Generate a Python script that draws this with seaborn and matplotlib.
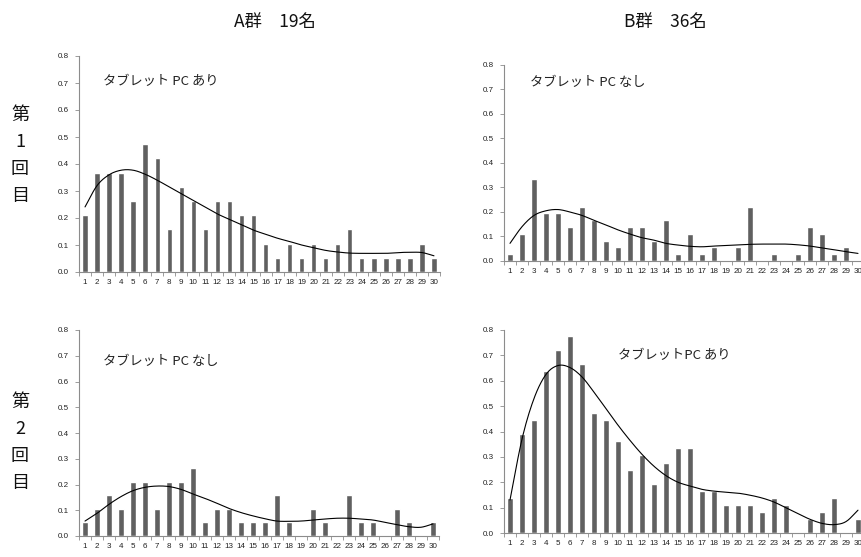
import numpy as np
import pandas as pd
import matplotlib
matplotlib.use("Agg")
import matplotlib.pyplot as plt
import seaborn as sns

# 回答者の割合 (A群 19名, B群 36名), 項目 1〜30
items = [str(i) for i in range(1, 31)]

a_round1 = [4, 7, 7, 7, 5, 9, 8, 3, 6, 5, 3, 5, 5, 4, 4,
            2, 1, 2, 1, 2, 1, 2, 3, 1, 1, 1, 1, 1, 2, 1]
a_round2 = [1, 2, 3, 2, 4, 4, 2, 4, 4, 5, 1, 2, 2, 1, 1,
            1, 3, 1, 0, 2, 1, 0, 3, 1, 1, 0, 2, 1, 0, 1]
b_round1 = [1, 4, 12, 7, 7, 5, 8, 6, 3, 2, 5, 5, 3, 6, 1,
            4, 1, 2, 0, 2, 8, 0, 1, 0, 1, 5, 4, 1, 2, 0]
b_round2 = [5, 14, 16, 23, 26, 28, 24, 17, 16, 13, 9, 11, 7, 10, 12,
            12, 6, 6, 4, 4, 4, 3, 5, 4, 0, 2, 3, 5, 0, 2]

n_a = 19
n_b = 36

# 近似曲線 (多項式近似) の各項目での値
trend_a1 = [0.241, 0.32, 0.36, 0.377, 0.377, 0.362, 0.34, 0.315, 0.29, 0.265,
            0.24, 0.215, 0.195, 0.175, 0.155, 0.14, 0.125, 0.113, 0.10, 0.09,
            0.08, 0.074, 0.07, 0.069, 0.069, 0.069, 0.072, 0.073, 0.072, 0.06]
trend_b1 = [0.072, 0.14, 0.186, 0.205, 0.21, 0.20, 0.186, 0.166, 0.147, 0.127,
            0.11, 0.095, 0.085, 0.072, 0.065, 0.06, 0.058, 0.061, 0.063, 0.065,
            0.068, 0.069, 0.069, 0.069, 0.066, 0.061, 0.053, 0.046, 0.038, 0.031]
trend_a2 = [0.058, 0.088, 0.123, 0.153, 0.176, 0.189, 0.194, 0.192, 0.181, 0.163,
            0.146, 0.127, 0.107, 0.091, 0.078, 0.067, 0.058, 0.057, 0.058, 0.062,
            0.066, 0.069, 0.069, 0.066, 0.062, 0.053, 0.044, 0.036, 0.034, 0.047]
trend_b2 = [0.13, 0.37, 0.53, 0.625, 0.66, 0.652, 0.615, 0.555, 0.49, 0.425,
            0.365, 0.31, 0.263, 0.226, 0.20, 0.185, 0.172, 0.165, 0.161, 0.157,
            0.149, 0.138, 0.122, 0.099, 0.076, 0.054, 0.038, 0.033, 0.045, 0.09]

group_titles = ["A群　19名", "B群　36名"]
round_labels = ["第\n1\n回\n目", "第\n2\n回\n目"]
panel_notes = ["タブレット PC あり", "タブレット PC なし",
               "タブレット PC なし", "タブレットPC あり"]

sns.set_theme(style="white")
plt.rcParams["font.family"] = ["Liberation Sans", "Noto Sans CJK JP", "DejaVu Sans"]
JP = ["Noto Sans CJK JP", "DejaVu Sans"]

W, H = 861, 557
fig = plt.figure(figsize=(W / 100, H / 100), dpi=100)
fig.patch.set_facecolor("white")


def axes_px(left, right, top, bottom):
    return fig.add_axes([left / W, 1 - bottom / H, (right - left) / W, (bottom - top) / H])


def smooth_path(y, steps=12):
    """Catmull-Rom curve through the trend values at each item position."""
    y = np.asarray(y, dtype=float)
    p = np.concatenate([[2 * y[0] - y[1]], y, [2 * y[-1] - y[-2]]])
    xs, ys = [], []
    t = np.linspace(0, 1, steps, endpoint=False)
    for i in range(1, len(p) - 2):
        p0, p1, p2, p3 = p[i - 1], p[i], p[i + 1], p[i + 2]
        seg = 0.5 * ((2 * p1) + (-p0 + p2) * t + (2 * p0 - 5 * p1 + 4 * p2 - p3) * t ** 2
                     + (-p0 + 3 * p1 - 3 * p2 + p3) * t ** 3)
        xs.append(i - 1 + t)
        ys.append(seg)
    xs.append([len(y) - 1])
    ys.append([y[-1]])
    return np.concatenate(xs), np.concatenate(ys)


panels = [
    (a_round1, n_a, trend_a1, axes_px(79, 440, 56, 272), (103, 82)),
    (b_round1, n_b, trend_b1, axes_px(504, 864, 65, 261), (530, 82)),
    (a_round2, n_a, trend_a2, axes_px(79, 439, 330, 536), (103, 362)),
    (b_round2, n_b, trend_b2, axes_px(504, 864, 330, 533), (618, 356)),
]

bar_color = "#606060"
axis_color = "#8c8c8c"

for (counts, n, trend, ax, (tx, ty)), note in zip(panels, panel_notes):
    rate = np.array(counts) / n
    df = pd.DataFrame({"item": items, "rate": rate})
    sns.barplot(data=df, x="item", y="rate", order=items, color=bar_color,
                saturation=1, width=0.45, ax=ax)

    cx, cy = smooth_path(trend)
    ax.plot(cx, cy, color="black", lw=0.8)

    xs = np.arange(len(items))
    ax.set_xlim(-0.5, len(items) - 0.5)
    ax.set_ylim(0, 0.8)
    ax.set_yticks(np.arange(0, 0.81, 0.1))
    ax.set_yticklabels([f"{v:.1f}" for v in np.arange(0, 0.81, 0.1)])
    ax.set_xlabel("")
    ax.set_ylabel("")
    ax.set_facecolor("none")

    for side in ("top", "right"):
        ax.spines[side].set_visible(False)
    for side in ("left", "bottom"):
        ax.spines[side].set_color(axis_color)
        ax.spines[side].set_linewidth(0.8)

    ax.set_xticks(xs, minor=False)
    ax.set_xticklabels(items)
    ax.set_xticks(np.arange(-0.5, len(items)), minor=True)
    ax.tick_params(axis="x", which="major", length=0, pad=5, labelsize=5.8,
                   labelcolor="#222222")
    ax.tick_params(axis="x", which="minor", length=3, width=0.6, color=axis_color,
                   direction="out", bottom=True)
    ax.tick_params(axis="y", length=3, width=0.6, color=axis_color, direction="out",
                   left=True, pad=12, labelsize=5.8, labelcolor="#222222")
    for lbl in ax.get_yticklabels():
        lbl.set_horizontalalignment("left")
    ax.grid(False)

    fig.text(tx / W, 1 - ty / H, note, family=JP, fontsize=9.5, color="#222222",
             ha="left", va="center")

# 群の見出し
fig.text(275 / W, 1 - 22 / H, group_titles[0], family=JP, fontsize=12.5,
         ha="center", va="center", color="#111111")
fig.text(665 / W, 1 - 22 / H, group_titles[1], family=JP, fontsize=12.5,
         ha="center", va="center", color="#111111")

# 回の見出し (縦書き)
for label, top in zip(round_labels, [115, 402]):
    for k, ch in enumerate(label.split("\n")):
        fig.text(20 / W, 1 - (top + k * 27) / H, ch, family=JP, fontsize=13,
                 ha="center", va="center", color="#111111")

fig.savefig("out.png", dpi=100, facecolor="white")
